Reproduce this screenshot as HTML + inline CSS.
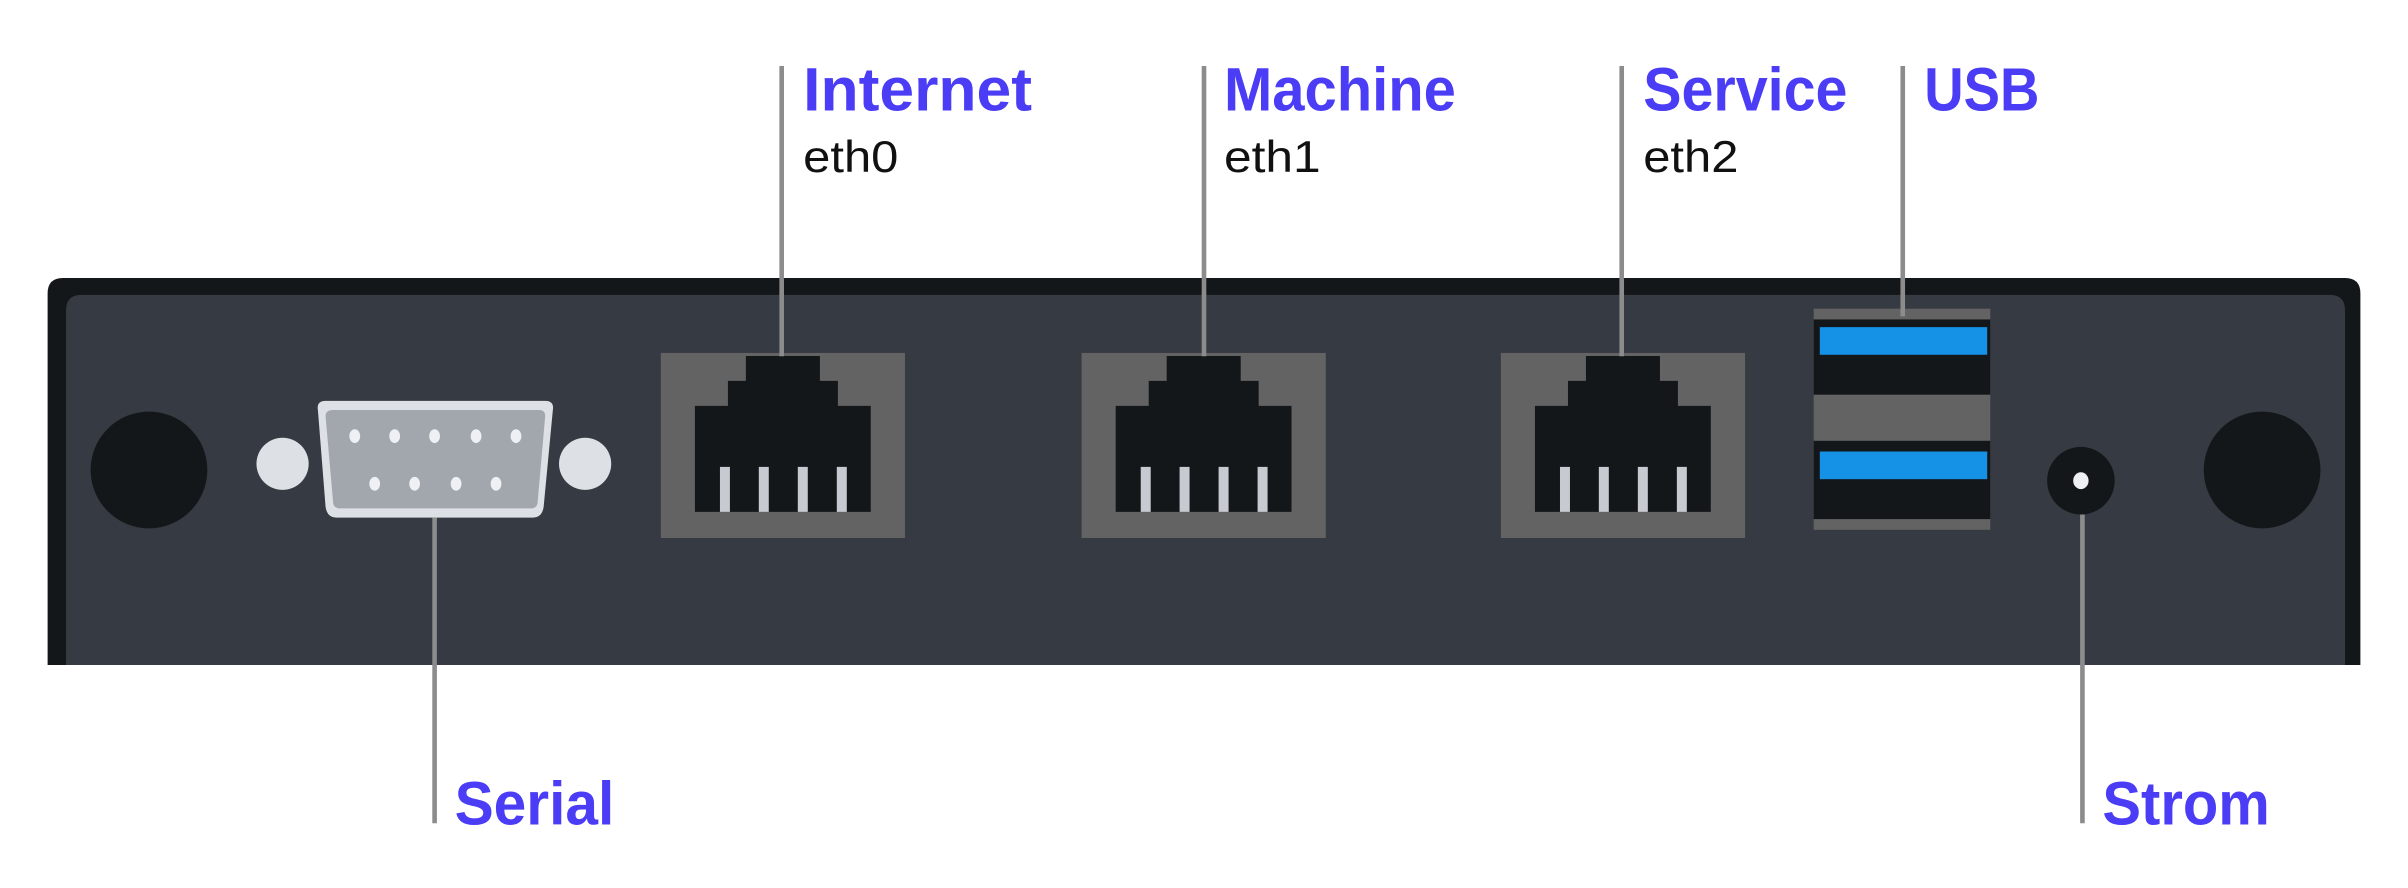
<!DOCTYPE html>
<html><head><meta charset="utf-8"><style>
html,body{margin:0;padding:0;background:#fff;width:2408px;height:888px;overflow:hidden}
svg{display:block}
.l{font-family:"Liberation Sans",sans-serif;font-weight:bold;fill:#4b3cf5;font-size:40px}
.s{font-family:"Liberation Sans",sans-serif;fill:#111;font-size:29px}
</style></head><body>
<svg width="2408" height="888" viewBox="0 0 1568 578.2" preserveAspectRatio="none" xmlns="http://www.w3.org/2000/svg">
<defs>
<g id="rj">
<rect x="430.3" y="229.8" width="159" height="120.5" fill="#636363"/>
<path d="M485.7 231.8H533.9V248H545.6V264.3H567V333.3H452.5V264.3H474V248H485.7Z" fill="#14171a"/>
<g fill="#c7cad1">
<rect x="468.8" y="304" width="6.5" height="29.3"/>
<rect x="494.1" y="304" width="6.5" height="29.3"/>
<rect x="519.5" y="304" width="6.5" height="29.3"/>
<rect x="544.9" y="304" width="6.5" height="29.3"/>
</g>
</g>
</defs>
<path d="M31 433V191Q31 181 41 181H1527Q1537 181 1537 191V433Z" fill="#14171a"/>
<path d="M43 433V202Q43 192 53 192H1517Q1527 192 1527 202V433Z" fill="#363a42"/>
<circle cx="97" cy="306" r="38" fill="#14171a"/>
<circle cx="1473" cy="306" r="38" fill="#14171a"/>
<ellipse cx="184" cy="302" rx="17" ry="17" fill="#dde0e5"/>
<ellipse cx="381" cy="302" rx="17" ry="17" fill="#dde0e5"/>
<path d="M212 261H355Q361 261 360 267L354 330Q353 337 347 337H219Q213 337 212 330L207 267Q206 261 212 261Z" fill="#dde0e5"/>
<path d="M217 267H351Q355 267 355 271L350 328Q349 331 346 331H221Q218 331 217 328L212 271Q212 267 217 267Z" fill="#a2a7ae"/>
<g fill="#eef0f3">
<ellipse cx="231" cy="284" rx="3.5" ry="4.5"/><ellipse cx="257" cy="284" rx="3.5" ry="4.5"/><ellipse cx="283" cy="284" rx="3.5" ry="4.5"/><ellipse cx="310" cy="284" rx="3.5" ry="4.5"/><ellipse cx="336" cy="284" rx="3.5" ry="4.5"/>
<ellipse cx="244" cy="315" rx="3.5" ry="4.5"/><ellipse cx="270" cy="315" rx="3.5" ry="4.5"/><ellipse cx="297" cy="315" rx="3.5" ry="4.5"/><ellipse cx="323" cy="315" rx="3.5" ry="4.5"/>
</g>
<use href="#rj"/>
<use href="#rj" x="274"/>
<use href="#rj" x="547"/>
<rect x="1181" y="201" width="115" height="144" fill="#636363"/>
<rect x="1181" y="208" width="115" height="49" fill="#14171a"/>
<rect x="1185" y="213" width="109" height="18" fill="#1592e6"/>
<rect x="1181" y="287" width="115" height="51" fill="#14171a"/>
<rect x="1185" y="294" width="109" height="18" fill="#1592e6"/>
<circle cx="1355" cy="313" r="22" fill="#14171a"/>
<ellipse cx="1355" cy="313" rx="5" ry="5.5" fill="#eef0f3"/>
<g stroke="#8c8c8c" stroke-width="3">
<line x1="509" y1="43" x2="509" y2="232"/>
<line x1="784" y1="43" x2="784" y2="232"/>
<line x1="1056" y1="43" x2="1056" y2="232"/>
<line x1="1239" y1="43" x2="1239" y2="206"/>
<line x1="283" y1="337" x2="283" y2="536"/>
<line x1="1356" y1="335" x2="1356" y2="536"/>
</g>
<text class="l" x="523" y="72" textLength="149" lengthAdjust="spacingAndGlyphs">Internet</text>
<text class="l" x="797" y="72" textLength="151" lengthAdjust="spacingAndGlyphs">Machine</text>
<text class="l" x="1070" y="72" textLength="133" lengthAdjust="spacingAndGlyphs">Service</text>
<text class="l" x="1253" y="72" textLength="75" lengthAdjust="spacingAndGlyphs">USB</text>
<text class="l" x="296" y="537" textLength="104" lengthAdjust="spacingAndGlyphs">Serial</text>
<text class="l" x="1369" y="537" textLength="109" lengthAdjust="spacingAndGlyphs">Strom</text>
<text class="s" x="523" y="112" textLength="62" lengthAdjust="spacingAndGlyphs">eth0</text>
<text class="s" x="797" y="112" textLength="63" lengthAdjust="spacingAndGlyphs">eth1</text>
<text class="s" x="1070" y="112" textLength="62" lengthAdjust="spacingAndGlyphs">eth2</text>
</svg>
</body></html>
